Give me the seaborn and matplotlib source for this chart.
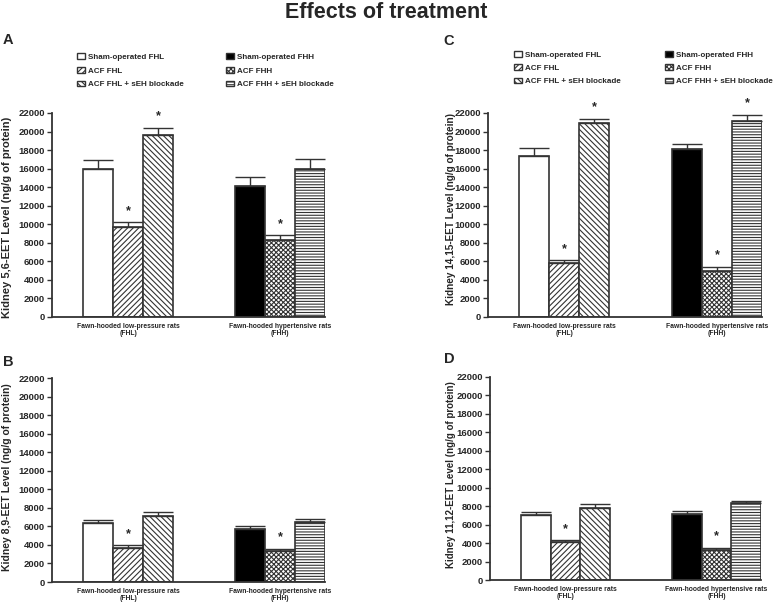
import numpy as np
import pandas as pd
import matplotlib
matplotlib.use("Agg")
import matplotlib.pyplot as plt
import matplotlib.patches as mpatches
import seaborn as sns

# ---------------- data ----------------
groups = ["FHL", "FHH"]
group_labels = ["Fawn-hooded low-pressure rats\n(FHL)", "Fawn-hooded hypertensive rats\n(FHH)"]
treatments = ["Sham-operated", "ACF", "ACF + sEH blockade"]
legend_left = ["Sham-operated FHL", "ACF FHL", "ACF FHL + sEH blockade"]
legend_right = ["Sham-operated FHH", "ACF FHH", "ACF FHH + sEH blockade"]
yticks = [0, 2000, 4000, 6000, 8000, 10000, 12000, 14000, 16000, 18000, 20000, 22000]

# Panel A: 5,6-EET
A_fhl = [16000, 9700, 19600]
A_fhl_err = [900, 500, 800]
A_fhh = [14100, 8300, 16000]
A_fhh_err = [1000, 500, 1000]
A_sig = [0, 1, 1, 0, 1, 0]

# Panel B: 8,9-EET
B_fhl = [6400, 3700, 7100]
B_fhl_err = [300, 250, 500]
B_fhh = [5700, 3300, 6500]
B_fhh_err = [300, 300, 300]
B_sig = [0, 1, 0, 0, 1, 0]

# Panel C: 14,15-EET
C_fhl = [17400, 5800, 20900]
C_fhl_err = [800, 300, 500]
C_fhh = [18100, 5000, 21100]
C_fhh_err = [600, 400, 700]
C_sig = [0, 1, 1, 0, 1, 1]

# Panel D: 11,12-EET
D_fhl = [7000, 4100, 7800]
D_fhl_err = [400, 200, 400]
D_fhh = [7100, 3200, 8300]
D_fhh_err = [350, 250, 300]
D_sig = [0, 1, 0, 0, 1, 0]

# ---------------- style ----------------
sns.set_style("ticks")
plt.rcParams["font.family"] = ["Liberation Sans", "DejaVu Sans"]
plt.rcParams["font.weight"] = "bold"
plt.rcParams["axes.labelweight"] = "bold"
plt.rcParams["hatch.linewidth"] = 0.8

EDGE = "#333333"
face = ["white", "white", "white", "black", "white", "white"]
hatch = [None, "//////", "\\\\\\\\\\\\", None, "xxxxxxx", "------"]

W, H = 778, 602
fig = plt.figure(figsize=(W / 100, H / 100), dpi=100)


def rect(l, r, t, b):
    return [l / W, 1 - b / H, (r - l) / W, (b - t) / H]


panels = [
    dict(letter="A", rect=rect(52, 325, 113, 317), fhl=A_fhl, fhl_err=A_fhl_err, fhh=A_fhh,
         fhh_err=A_fhh_err, sig=A_sig, ylabel="Kidney 5,6-EET Level (ng/g of protein)",
         lab=(3, 40), ylx=-0.1465, yly=0.49, ylfs=8.0, legend=((77, 53), (226, 53)),
         lsp=0.78),
    dict(letter="B", rect=rect(52, 325, 378, 582), fhl=B_fhl, fhl_err=B_fhl_err, fhh=B_fhh,
         fhh_err=B_fhh_err, sig=B_sig, ylabel="Kidney 8,9-EET Level (ng/g of protein)",
         lab=(3, 362), ylx=-0.1465, yly=0.515, ylfs=7.5, legend=None, lsp=0.7),
    dict(letter="C", rect=rect(488, 762, 113, 317), fhl=C_fhl, fhl_err=C_fhl_err, fhh=C_fhh,
         fhh_err=C_fhh_err, sig=C_sig, ylabel="Kidney 14,15-EET Level (ng/g of protein)",
         lab=(443, 41), ylx=-0.117, yly=0.53, ylfs=7.2, legend=((514, 51), (665, 51)),
         lsp=0.7),
    dict(letter="D", rect=rect(490, 761, 377, 580), fhl=D_fhl, fhl_err=D_fhl_err, fhh=D_fhh,
         fhh_err=D_fhh_err, sig=D_sig, ylabel="Kidney 11,12-EET Level (ng/g of protein)",
         lab=(444, 359), ylx=-0.125, yly=0.52, ylfs=7.0, legend=None, lsp=0.7),
]

for p in panels:
    ax = fig.add_axes(p["rect"])
    df = pd.DataFrame({
        "group": [groups[0]] * 3 + [groups[1]] * 3,
        "treatment": treatments * 2,
        "value": p["fhl"] + p["fhh"],
    })
    errs = p["fhl_err"] + p["fhh_err"]
    sns.barplot(data=df, x="group", y="value", hue="treatment", order=groups,
                hue_order=treatments, width=0.59, dodge=True, errorbar=None,
                palette=["white"] * 3, edgecolor=EDGE, linewidth=1.2, legend=False,
                saturation=1, ax=ax)
    bars = sorted(ax.patches, key=lambda r: r.get_x())
    for i, b in enumerate(bars):
        b.set_facecolor(face[i])
        b.set_edgecolor(EDGE)
        if hatch[i]:
            b.set_hatch(hatch[i])
    xs = [b.get_x() + b.get_width() / 2 for b in bars]
    hs = [b.get_height() for b in bars]
    ax.errorbar(xs, hs, yerr=[np.zeros(6), errs], fmt="none", ecolor=EDGE,
                elinewidth=1.0, capsize=10.5, capthick=1.0, zorder=1)
    for x, h, e, s in zip(xs, hs, errs, p["sig"]):
        if s:
            ax.annotate("*", (x, h + e), xytext=(0, 4), textcoords="offset points",
                        ha="center", va="bottom", fontsize=9, fontweight="bold")
    ax.set_xlim(-0.5, 1.295)
    ax.set_ylim(0, 22000)
    ax.set_yticks(yticks)
    ax.set_yticklabels([str(v) for v in yticks], fontsize=6.8, fontweight="bold")
    ax.set_xticks([0, 1])
    ax.set_xticklabels(group_labels, fontsize=4.9, fontweight="bold", linespacing=1.15)
    ax.tick_params(axis="x", length=0, pad=4)
    ax.tick_params(axis="y", length=3.5, width=1.0, pad=1.5, color=EDGE)
    ax.set_xlabel("")
    ax.set_ylabel(p["ylabel"], fontsize=p["ylfs"], fontweight="bold")
    ax.yaxis.set_label_coords(p["ylx"], p["yly"])
    sns.despine(ax=ax)
    for sp in ("left", "bottom"):
        ax.spines[sp].set_linewidth(1.3)
        ax.spines[sp].set_color(EDGE)
    fig.text(p["lab"][0] / W, 1 - p["lab"][1] / H, p["letter"], fontsize=10.5,
             fontweight="bold", ha="left", va="center")
    if p["legend"]:
        for col, (labels, idx) in enumerate(((legend_left, [0, 1, 2]), (legend_right, [3, 4, 5]))):
            handles = [mpatches.Patch(facecolor=face[i], edgecolor=EDGE, hatch=hatch[i],
                                      linewidth=1.0) for i in idx]
            lx, ly = p["legend"][col]
            fig.legend(handles, labels, loc="upper left",
                       bbox_to_anchor=(lx / W, 1 - ly / H),
                       bbox_transform=fig.transFigure, frameon=False,
                       prop={"weight": "bold", "size": 5.8},
                       handlelength=0.95, handleheight=0.7, handletextpad=0.45,
                       labelspacing=p["lsp"], borderpad=0, borderaxespad=0)

fig.text(0.497, 1 - 12 / H, "Effects of treatment", ha="center", va="center",
         fontsize=15.5, fontweight="bold")

fig.savefig("out.png", dpi=100)
